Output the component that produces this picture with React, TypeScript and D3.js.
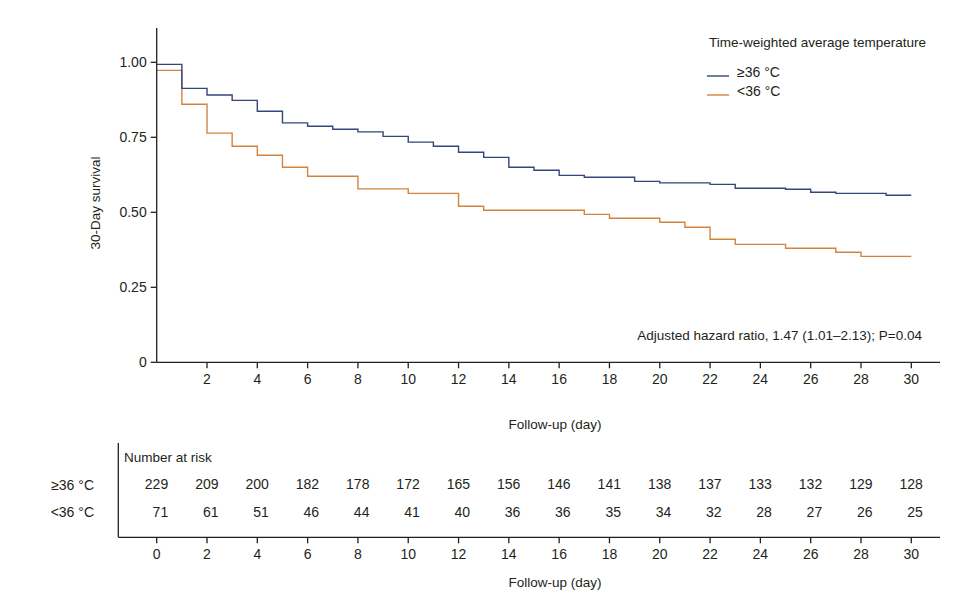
import React from "react";
import * as d3 from "d3";

// Kaplan-Meier steps: time at which the survival changes and the survival after that time
const hiTimes = [0, 1, 2, 3, 4, 5, 6, 7, 8, 9, 10, 11, 12, 13, 14, 15, 16, 17, 19, 20, 22, 23, 25, 26, 27, 29, 30];
const hiSurv = [0.993, 0.913, 0.891, 0.873, 0.837, 0.798, 0.787, 0.777, 0.768, 0.753, 0.734, 0.72, 0.70, 0.683, 0.65, 0.64, 0.623, 0.617, 0.603, 0.598, 0.593, 0.58, 0.577, 0.567, 0.563, 0.557, 0.557];
const loTimes = [0, 1, 2, 3, 4, 5, 6, 8, 10, 12, 13, 17, 18, 20, 21, 22, 23, 25, 27, 28, 30];
const loSurv = [0.973, 0.86, 0.764, 0.72, 0.69, 0.65, 0.62, 0.578, 0.563, 0.52, 0.507, 0.493, 0.48, 0.467, 0.45, 0.41, 0.393, 0.38, 0.367, 0.353, 0.353];

const seriesNames = ["≥36 °C", "<36 °C"];
const seriesColors = ["#34467a", "#d2843f"];

const riskTimes = [0, 2, 4, 6, 8, 10, 12, 14, 16, 18, 20, 22, 24, 26, 28, 30];
const riskHi = [229, 209, 200, 182, 178, 172, 165, 156, 146, 141, 138, 137, 133, 132, 129, 128];
const riskLo = [71, 61, 51, 46, 44, 41, 40, 36, 36, 35, 34, 32, 28, 27, 26, 25];

const yTicks = [0, 0.25, 0.5, 0.75, 1.0];
const yTickLabels = ["0", "0.25", "0.50", "0.75", "1.00"];
const xTicksTop = [2, 4, 6, 8, 10, 12, 14, 16, 18, 20, 22, 24, 26, 28, 30];
const xTicksBottom = [0, 2, 4, 6, 8, 10, 12, 14, 16, 18, 20, 22, 24, 26, 28, 30];

const FONT = "'Liberation Sans', Arial, sans-serif";
const TXT = "#231f20";
const WORD = 13.5;

export default function App() {
  const W = 977, H = 598;
  const x = d3.scaleLinear().domain([0, 30]).range([156.7, 911.3]);
  const y = d3.scaleLinear().domain([0, 1]).range([362.3, 62.3]);
  const axisTop = 28;
  const axisRight = 940;
  const line = d3
    .line<[number, number]>()
    .x((d) => x(d[0]))
    .y((d) => y(d[1]))
    .curve(d3.curveStepAfter);
  const hiPts = hiTimes.map((t, i) => [t, hiSurv[i]] as [number, number]);
  const loPts = loTimes.map((t, i) => [t, loSurv[i]] as [number, number]);

  const tableAxisY = 537.3;
  const tableLeft = 118.3;

  return (
    <svg
      width={W}
      height={H}
      style={{ position: "absolute", left: 0, top: 0, background: "#fff" }}
      fontFamily={FONT}
      fontSize={14}
    >
      <rect width={W} height={H} fill="#fff" />
      {/* curves */}
      <path d={line(loPts) || ""} fill="none" stroke={seriesColors[1]} strokeWidth={1.4} />
      <path d={line(hiPts) || ""} fill="none" stroke={seriesColors[0]} strokeWidth={1.4} />

      {/* y axis */}
      <line x1={x(0)} x2={x(0)} y1={axisTop} y2={y(0)} stroke={TXT} strokeWidth={1.3} />
      {yTicks.map((t, i) => (
        <g key={"yt" + i}>
          <line x1={x(0) - 6} x2={x(0)} y1={y(t)} y2={y(t)} stroke={TXT} strokeWidth={1.3} />
          <text x={x(0) - 10} y={y(t)} dy="0.35em" textAnchor="end" fill={TXT}>
            {yTickLabels[i]}
          </text>
        </g>
      ))}
      <text
        transform={`translate(95,203) rotate(-90)`}
        textAnchor="middle"
        dy="0.35em"
        fill={TXT}
        fontSize={WORD}
      >
        30-Day survival
      </text>

      {/* x axis top */}
      <line x1={x(0)} x2={axisRight} y1={y(0)} y2={y(0)} stroke={TXT} strokeWidth={1.3} />
      {xTicksTop.map((t) => (
        <g key={"xt" + t}>
          <line x1={x(t)} x2={x(t)} y1={y(0)} y2={y(0) + 6} stroke={TXT} strokeWidth={1.3} />
          <text x={x(t)} y={379} dy="0.35em" textAnchor="middle" fill={TXT}>
            {t}
          </text>
        </g>
      ))}
      <text x={555} y={424} dy="0.35em" textAnchor="middle" fill={TXT} fontSize={WORD}>
        Follow-up (day)
      </text>

      {/* annotation */}
      <text x={922} y={335} dy="0.35em" textAnchor="end" fill={TXT} fontSize={WORD}>
        Adjusted hazard ratio, 1.47 (1.01–2.13); P=0.04
      </text>

      {/* legend */}
      <text x={709} y={42} dy="0.35em" fill={TXT} fontSize={WORD}>
        Time-weighted average temperature
      </text>
      {seriesNames.map((n, i) => (
        <g key={"lg" + i}>
          <line x1={707} x2={729} y1={76 + i * 19} y2={76 + i * 19} stroke={seriesColors[i]} strokeWidth={1.4} />
          <text x={737} y={72 + i * 19} dy="0.35em" fill={TXT}>
            {n}
          </text>
        </g>
      ))}

      {/* risk table */}
      <line x1={tableLeft} x2={tableLeft} y1={443} y2={tableAxisY} stroke={TXT} strokeWidth={1.3} />
      <line x1={tableLeft} x2={axisRight} y1={tableAxisY} y2={tableAxisY} stroke={TXT} strokeWidth={1.3} />
      <text x={124} y={457} dy="0.35em" fill={TXT} fontSize={WORD}>
        Number at risk
      </text>
      <text x={94} y={485} dy="0.35em" textAnchor="end" fill={TXT}>
        {seriesNames[0]}
      </text>
      <text x={94} y={512} dy="0.35em" textAnchor="end" fill={TXT}>
        {seriesNames[1]}
      </text>
      {riskTimes.map((t, i) => (
        <g key={"rk" + t}>
          <text x={x(t) + 11.5} y={484} dy="0.35em" textAnchor="end" fill={TXT}>
            {riskHi[i]}
          </text>
          <text x={x(t) + 11.5} y={512} dy="0.35em" textAnchor="end" fill={TXT}>
            {riskLo[i]}
          </text>
        </g>
      ))}
      {xTicksBottom.map((t) => (
        <g key={"xb" + t}>
          <line x1={x(t)} x2={x(t)} y1={tableAxisY} y2={tableAxisY + 6} stroke={TXT} strokeWidth={1.3} />
          <text x={x(t)} y={554} dy="0.35em" textAnchor="middle" fill={TXT}>
            {t}
          </text>
        </g>
      ))}
      <text x={555} y={582} dy="0.35em" textAnchor="middle" fill={TXT} fontSize={WORD}>
        Follow-up (day)
      </text>
    </svg>
  );
}
